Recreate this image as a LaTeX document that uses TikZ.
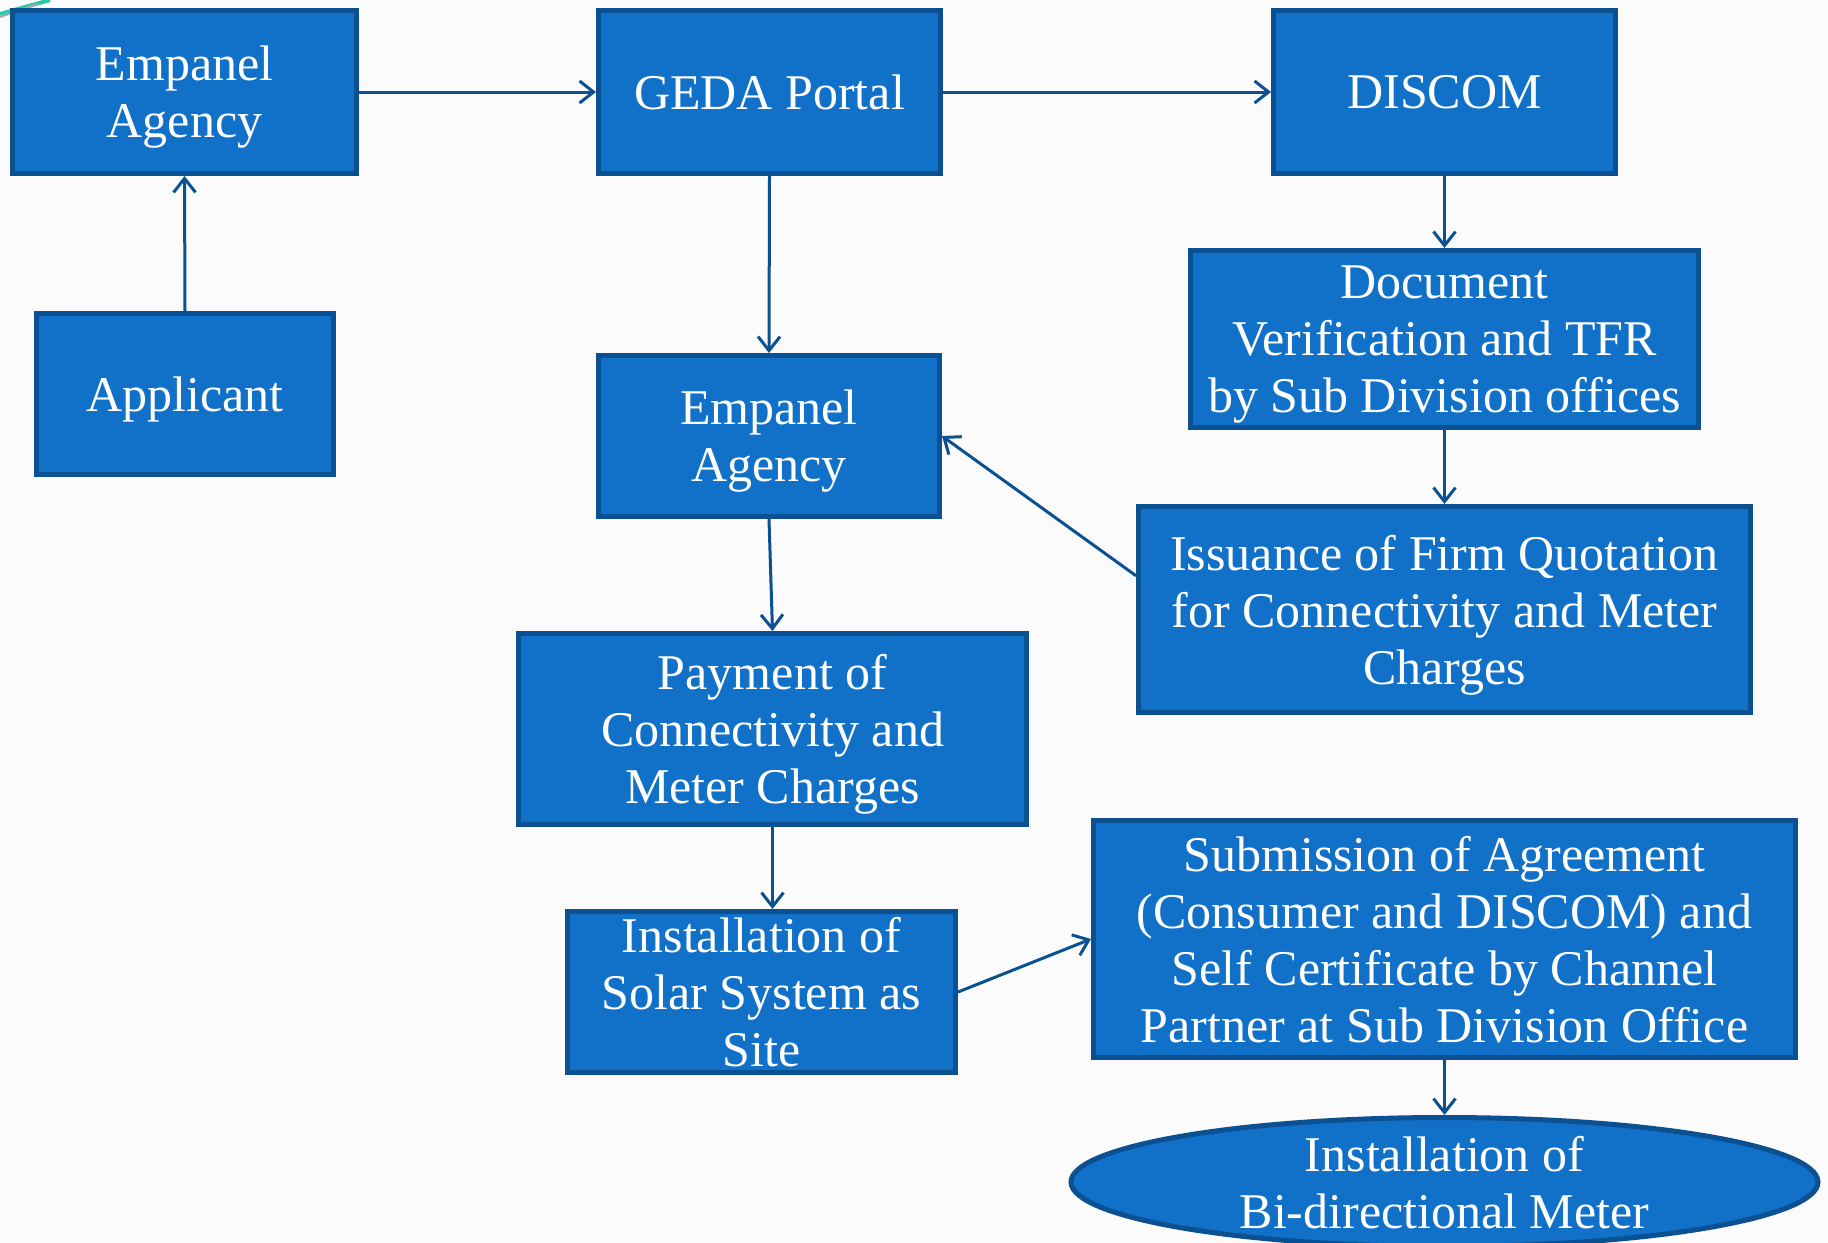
\documentclass[tikz,border=0pt]{standalone}
\usepackage{fontspec}
\setmainfont{Liberation Serif}
\usetikzlibrary{arrows.meta,shapes.geometric,calc}
\definecolor{boxfill}{HTML}{1170C7}
\definecolor{boxline}{HTML}{0B5091}
\definecolor{bgcol}{HTML}{FBFBFB}
\definecolor{teal}{HTML}{2CC9A6}
\tikzset{
  stepbox/.style={rectangle, draw=boxline, fill=boxfill, line width=2.5pt,
    text=white, align=center, inner sep=0pt, text depth=0pt,
    font=\fontsize{25}{28.5}\selectfont},
  flowarrow/.style={draw=boxline, line width=1.5pt,
    -{Straight Barb[length=7pt,width=11pt,line width=1.5pt]}},
}
\begin{document}
\begin{tikzpicture}[x=0.5pt,y=-0.5pt]
\useasboundingbox (0,0) rectangle (1828,1243);
\fill[bgcol] (0,0) rectangle (1828,1243);
% corner decoration
\draw[teal, line width=2pt] (0,14) -- (50,0);
\draw[gray!70, line width=1pt] (0,17) -- (38,4);

\node[stepbox, minimum width=172pt, minimum height=81.5pt] (ea1) at (184.5,92) {Empanel\\Agency};
\node[stepbox, minimum width=171pt, minimum height=81.5pt] (geda) at (769.5,92) {GEDA Portal};
\node[stepbox, minimum width=171pt, minimum height=81.5pt] (discom) at (1444.5,92) {DISCOM};
\node[stepbox, minimum width=148.5pt, minimum height=80.5pt] (app) at (185,394) {Applicant};
\node[stepbox, minimum width=170.5pt, minimum height=80.5pt] (ea2) at (769,436) {Empanel\\Agency};
\node[stepbox, minimum width=254pt, minimum height=88.5pt] (doc) at (1444.5,339) {Document\\Verification and TFR\\by Sub Division offices};
\node[stepbox, minimum width=306pt, minimum height=103pt] (iss) at (1444.5,609.5) {Issuance of Firm Quotation\\for Connectivity and Meter\\Charges};
\node[stepbox, minimum width=254pt, minimum height=95.5pt] (pay) at (772.5,729) {Payment of\\Connectivity and\\Meter Charges};
\node[stepbox, minimum width=194pt, minimum height=80.5pt] (inst) at (761.5,992) {Installation of\\Solar System as\\Site};
\node[stepbox, minimum width=351pt, minimum height=118.5pt] (sub) at (1444.5,939) {Submission of Agreement\\(Consumer and DISCOM) and\\Self Certificate by Channel\\Partner at Sub Division Office};
\node[ellipse, draw=boxline, fill=boxfill, line width=2.5pt, inner sep=0pt,
      minimum width=373.5pt, minimum height=64.5pt] (ell) at (1444.5,1182) {};
\node[text=white, align=center, inner sep=0pt, text depth=0pt, font=\fontsize{25}{28.5}\selectfont] (elltext) at (ell.center) {Installation of\\Bi-directional Meter};

\path[flowarrow] (app.north) -- (ea1.south);
\path[flowarrow] (ea1.east) -- (geda.west);
\path[flowarrow] (geda.east) -- (discom.west);
\path[flowarrow] (geda.south) -- (ea2.north);
\path[flowarrow] (discom.south) -- (doc.north);
\path[flowarrow] (doc.south) -- (iss.north);
\path[flowarrow] ($(iss.north west)!0.34!(iss.south west)$) -- (ea2.east);
\path[flowarrow] (ea2.south) -- (pay.north);
\path[flowarrow] (pay.south) -- (pay.south |- inst.north);
\path[flowarrow] (inst.east) -- (sub.west);
\path[flowarrow] (sub.south) -- (ell.north);
\end{tikzpicture}
\end{document}
